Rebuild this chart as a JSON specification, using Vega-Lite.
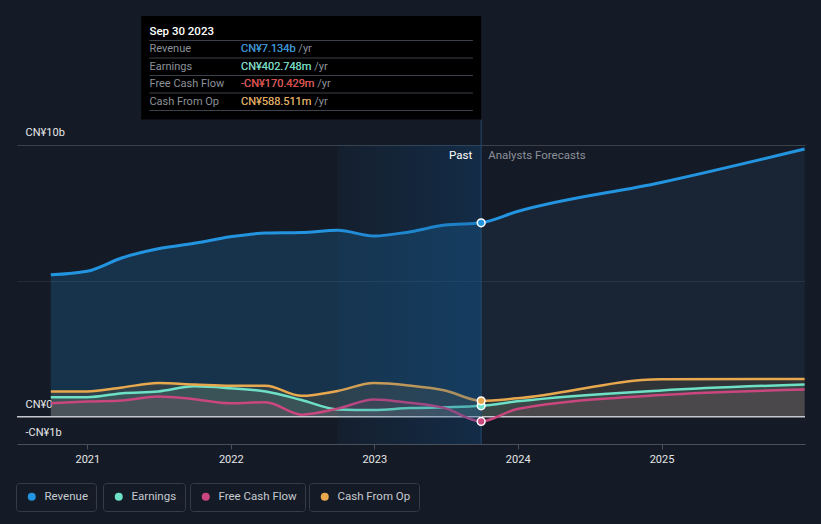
{
  "$schema": "https://vega.github.io/schema/vega-lite/v6.json",
  "width": 788,
  "height": 428,
  "autosize": {"type": "none"},
  "padding": {"left": 17, "top": 16, "right": 16, "bottom": 80},
  "background": "#151b26",
  "config": {
    "view": {"stroke": null},
    "font": "Roboto",
    "text": {"font": "Roboto"}
  },
  "datasets": {
    "fin": [
      {"date": "2020-09-30", "series": "Revenue", "value": 5.22},
      {"date": "2020-12-31", "series": "Revenue", "value": 5.35},
      {"date": "2021-03-31", "series": "Revenue", "value": 5.85},
      {"date": "2021-06-30", "series": "Revenue", "value": 6.18},
      {"date": "2021-09-30", "series": "Revenue", "value": 6.38},
      {"date": "2021-12-31", "series": "Revenue", "value": 6.62},
      {"date": "2022-03-31", "series": "Revenue", "value": 6.76},
      {"date": "2022-06-30", "series": "Revenue", "value": 6.78},
      {"date": "2022-09-30", "series": "Revenue", "value": 6.86},
      {"date": "2022-12-31", "series": "Revenue", "value": 6.65},
      {"date": "2023-03-31", "series": "Revenue", "value": 6.8},
      {"date": "2023-06-30", "series": "Revenue", "value": 7.05},
      {"date": "2023-09-30", "series": "Revenue", "value": 7.134},
      {"date": "2023-12-31", "series": "Revenue", "value": 7.55},
      {"date": "2024-12-31", "series": "Revenue", "value": 8.62},
      {"date": "2025-12-31", "series": "Revenue", "value": 9.85},
      {"date": "2020-09-30", "series": "Earnings", "value": 0.72},
      {"date": "2020-12-31", "series": "Earnings", "value": 0.72},
      {"date": "2021-03-31", "series": "Earnings", "value": 0.87},
      {"date": "2021-06-30", "series": "Earnings", "value": 0.93},
      {"date": "2021-09-30", "series": "Earnings", "value": 1.12},
      {"date": "2021-12-31", "series": "Earnings", "value": 1.05},
      {"date": "2022-03-31", "series": "Earnings", "value": 0.93},
      {"date": "2022-06-30", "series": "Earnings", "value": 0.62},
      {"date": "2022-09-30", "series": "Earnings", "value": 0.27},
      {"date": "2022-12-31", "series": "Earnings", "value": 0.25},
      {"date": "2023-03-31", "series": "Earnings", "value": 0.32},
      {"date": "2023-06-30", "series": "Earnings", "value": 0.35},
      {"date": "2023-09-30", "series": "Earnings", "value": 0.403},
      {"date": "2023-12-31", "series": "Earnings", "value": 0.57},
      {"date": "2024-12-31", "series": "Earnings", "value": 0.97},
      {"date": "2025-12-31", "series": "Earnings", "value": 1.19},
      {"date": "2020-09-30", "series": "Free Cash Flow", "value": 0.5},
      {"date": "2020-12-31", "series": "Free Cash Flow", "value": 0.56},
      {"date": "2021-03-31", "series": "Free Cash Flow", "value": 0.6},
      {"date": "2021-06-30", "series": "Free Cash Flow", "value": 0.75},
      {"date": "2021-09-30", "series": "Free Cash Flow", "value": 0.65},
      {"date": "2021-12-31", "series": "Free Cash Flow", "value": 0.5},
      {"date": "2022-03-31", "series": "Free Cash Flow", "value": 0.54},
      {"date": "2022-06-30", "series": "Free Cash Flow", "value": 0.08},
      {"date": "2022-09-30", "series": "Free Cash Flow", "value": 0.3},
      {"date": "2022-12-31", "series": "Free Cash Flow", "value": 0.64},
      {"date": "2023-03-31", "series": "Free Cash Flow", "value": 0.52},
      {"date": "2023-06-30", "series": "Free Cash Flow", "value": 0.32},
      {"date": "2023-09-30", "series": "Free Cash Flow", "value": -0.17},
      {"date": "2023-12-31", "series": "Free Cash Flow", "value": 0.29},
      {"date": "2024-12-31", "series": "Free Cash Flow", "value": 0.8},
      {"date": "2025-12-31", "series": "Free Cash Flow", "value": 1.0},
      {"date": "2020-09-30", "series": "Cash From Op", "value": 0.93},
      {"date": "2020-12-31", "series": "Cash From Op", "value": 0.93},
      {"date": "2021-03-31", "series": "Cash From Op", "value": 1.08},
      {"date": "2021-06-30", "series": "Cash From Op", "value": 1.24},
      {"date": "2021-09-30", "series": "Cash From Op", "value": 1.19},
      {"date": "2021-12-31", "series": "Cash From Op", "value": 1.14},
      {"date": "2022-03-31", "series": "Cash From Op", "value": 1.14},
      {"date": "2022-06-30", "series": "Cash From Op", "value": 0.77},
      {"date": "2022-09-30", "series": "Cash From Op", "value": 0.95},
      {"date": "2022-12-31", "series": "Cash From Op", "value": 1.24},
      {"date": "2023-03-31", "series": "Cash From Op", "value": 1.15},
      {"date": "2023-06-30", "series": "Cash From Op", "value": 0.97},
      {"date": "2023-09-30", "series": "Cash From Op", "value": 0.589},
      {"date": "2023-12-31", "series": "Cash From Op", "value": 0.68},
      {"date": "2024-12-31", "series": "Cash From Op", "value": 1.38},
      {"date": "2025-12-31", "series": "Cash From Op", "value": 1.39}
    ],
    "tip": [
      {"row": "date", "label": "Sep 30 2023", "value": ""},
      {"row": "Revenue", "label": "Revenue", "value": "CN¥7.134b"},
      {"row": "Earnings", "label": "Earnings", "value": "CN¥402.748m"},
      {"row": "Free Cash Flow", "label": "Free Cash Flow", "value": "-CN¥170.429m"},
      {"row": "Cash From Op", "label": "Cash From Op", "value": "CN¥588.511m"}
    ]
  },
  "layer": [
    {
      "data": {"name": "fin"},
      "resolve": {"scale": {"color": "independent"}, "legend": {"color": "independent"}},
      "layer": [
        {
          "transform": [{"filter": {"and": [{"field": "series", "equal": "Revenue"}, {"field": "date", "lte": {"year": 2023, "month": 9, "date": 30, "hours": 12, "utc": true}}]}}],
          "mark": {"type": "area", "interpolate": "monotone", "color": "#2394df", "opacity": 0.2},
          "encoding": {
            "x": {"field": "date", "type": "temporal",
              "scale": {"type": "utc", "domain": [{"year": 2020, "month": 7, "date": 6, "utc": true}, {"year": 2026, "month": 1, "date": 1, "utc": true}]},
              "axis": {"title": null, "format": "%Y", "grid": false,
                "values": [{"year": 2021, "month": 1, "date": 1, "utc": true}, {"year": 2022, "month": 1, "date": 1, "utc": true}, {"year": 2023, "month": 1, "date": 1, "utc": true}, {"year": 2024, "month": 1, "date": 1, "utc": true}, {"year": 2025, "month": 1, "date": 1, "utc": true}],
                "domainColor": "#4a505a", "tickColor": "#4a505a", "tickSize": 5, "labelColor": "#e6e6e6", "labelFontSize": 11, "labelPadding": 4, "labelFont": "Roboto"}},
            "y": {"field": "value", "type": "quantitative",
              "scale": {"domain": [-1, 14.74], "nice": false, "zero": false},
              "axis": {"title": null, "values": [-1, 0, 5, 10], "domain": false, "ticks": false,
                "labelAlign": "left", "labelBaseline": "alphabetic", "labelPadding": -8, "labelOffset": -9,
                "labelColor": "#e6e6e6", "labelFontSize": 11, "labelFont": "Roboto",
                "labelExpr": "datum.value == 10 ? 'CN¥10b' : datum.value == 0 ? 'CN¥0' : datum.value == -1 ? '-CN¥1b' : ''",
                "gridColor": {"condition": {"test": "datum.value == 10", "value": "#3a404a"}, "value": "#262c37"},
                "gridOpacity": {"condition": {"test": "datum.value <= 0", "value": 0}, "value": 1}}}
          }
        },
        {
          "transform": [{"filter": {"and": [{"field": "series", "equal": "Revenue"}, {"field": "date", "gte": {"year": 2023, "month": 9, "date": 29, "hours": 12, "utc": true}}]}}],
          "mark": {"type": "area", "interpolate": "monotone", "color": "#365e8a", "opacity": 0.15},
          "encoding": {
            "x": {"field": "date", "type": "temporal"},
            "y": {"field": "value", "type": "quantitative"}
          }
        },
        {
          "transform": [{"filter": {"not": {"field": "series", "equal": "Revenue"}}}],
          "mark": {"type": "area", "interpolate": "monotone", "opacity": 0.12},
          "encoding": {
            "x": {"field": "date", "type": "temporal"},
            "y": {"field": "value", "type": "quantitative", "stack": null},
            "color": {"field": "series", "type": "nominal", "legend": null,
              "scale": {"domain": ["Earnings", "Free Cash Flow", "Cash From Op"], "range": ["#6ee0c6", "#c9467e", "#e8a94e"]}}
          }
        },
        {
          "data": {"values": [{"level": 0}]},
          "mark": {"type": "rule", "color": "#c4c8ce", "strokeWidth": 1.5},
          "encoding": {"y": {"field": "level", "type": "quantitative"}}
        },
        {
          "transform": [{"filter": {"not": {"field": "series", "equal": "Revenue"}}}],
          "mark": {"type": "line", "interpolate": "monotone", "strokeWidth": 2.5},
          "encoding": {
            "x": {"field": "date", "type": "temporal"},
            "y": {"field": "value", "type": "quantitative"},
            "color": {"field": "series", "type": "nominal", "legend": null,
              "scale": {"domain": ["Cash From Op", "Earnings", "Free Cash Flow"], "range": ["#e8a94e", "#6ee0c6", "#c9467e"]}}
          }
        },
        {
          "transform": [{"filter": {"field": "series", "equal": "Revenue"}}],
          "mark": {"type": "line", "interpolate": "monotone", "strokeWidth": 3, "color": "#2394df"},
          "encoding": {
            "x": {"field": "date", "type": "temporal"},
            "y": {"field": "value", "type": "quantitative"}
          }
        },
        {
          "data": {"values": [{"period": "Past"}]},
          "mark": {"type": "rect", "fill": {"gradient": "linear", "x1": 0, "x2": 1, "y1": 0, "y2": 0,
            "stops": [{"offset": 0, "color": "rgba(15,79,138,0.08)"}, {"offset": 1, "color": "rgba(15,79,138,0.32)"}]}},
          "encoding": {
            "x": {"datum": {"year": 2022, "month": 9, "date": 30, "utc": true}},
            "x2": {"datum": {"year": 2023, "month": 9, "date": 30, "utc": true}},
            "y": {"datum": 10},
            "y2": {"datum": -1}
          }
        },
        {
          "data": {"values": [{"period": "Past"}]},
          "mark": {"type": "rule", "color": "#24496e", "strokeWidth": 1},
          "encoding": {
            "x": {"datum": {"year": 2023, "month": 9, "date": 30, "utc": true}},
            "y": {"datum": 10.93},
            "y2": {"datum": -1}
          }
        },
        {
          "data": {"values": [{"label": "Past"}]},
          "mark": {"type": "text", "align": "right", "baseline": "middle", "dx": -9, "color": "#ffffff", "fontSize": 11.5},
          "encoding": {
            "x": {"datum": {"year": 2023, "month": 9, "date": 30, "utc": true}},
            "y": {"datum": 9.59},
            "text": {"field": "label"}
          }
        },
        {
          "data": {"values": [{"label": "Analysts Forecasts"}]},
          "mark": {"type": "text", "align": "left", "baseline": "middle", "dx": 7, "color": "#8b9099", "fontSize": 11.5},
          "encoding": {
            "x": {"datum": {"year": 2023, "month": 9, "date": 30, "utc": true}},
            "y": {"datum": 9.59},
            "text": {"field": "label"}
          }
        },
        {
          "data": {"values": [{"box": "tooltip"}]},
          "mark": {"type": "rect", "fill": "#000000"},
          "encoding": {
            "x": {"datum": {"year": 2021, "month": 5, "date": 18, "utc": true}},
            "x2": {"datum": {"year": 2023, "month": 9, "date": 30, "utc": true}},
            "y": {"datum": 14.74},
            "y2": {"datum": 10.93}
          }
        },
        {
          "transform": [{"filter": {"and": [{"field": "series", "equal": "Revenue"}, {"field": "date", "range": [{"year": 2023, "month": 9, "date": 29, "hours": 12, "utc": true}, {"year": 2023, "month": 9, "date": 30, "hours": 12, "utc": true}]}]}}],
          "mark": {"type": "point", "filled": true, "size": 60, "stroke": "#ffffff", "strokeWidth": 1.5, "opacity": 1},
          "encoding": {
            "x": {"field": "date", "type": "temporal"},
            "y": {"field": "value", "type": "quantitative"},
            "color": {"field": "series", "type": "nominal", "scale": {"range": ["#2394df"]},
              "legend": {"orient": "none", "legendX": -1, "legendY": 467, "title": null, "padding": 8, "strokeColor": "#363c47", "cornerRadius": 3,
                "symbolType": "circle", "symbolSize": 64, "symbolStrokeWidth": 0, "symbolOffset": 2, "labelOffset": 7,
                "labelFontSize": 11.5, "labelColor": "#c6cad0", "labelFont": "Roboto"}}
          }
        },
        {
          "transform": [{"filter": {"and": [{"field": "series", "equal": "Earnings"}, {"field": "date", "range": [{"year": 2023, "month": 9, "date": 29, "hours": 12, "utc": true}, {"year": 2023, "month": 9, "date": 30, "hours": 12, "utc": true}]}]}}],
          "mark": {"type": "point", "filled": true, "size": 60, "stroke": "#ffffff", "strokeWidth": 1.5, "opacity": 1},
          "encoding": {
            "x": {"field": "date", "type": "temporal"},
            "y": {"field": "value", "type": "quantitative"},
            "color": {"field": "series", "type": "nominal", "scale": {"range": ["#6ee0c6"]},
              "legend": {"orient": "none", "legendX": 86, "legendY": 467, "title": null, "padding": 8, "strokeColor": "#363c47", "cornerRadius": 3,
                "symbolType": "circle", "symbolSize": 64, "symbolStrokeWidth": 0, "symbolOffset": 2, "labelOffset": 7,
                "labelFontSize": 11.5, "labelColor": "#c6cad0", "labelFont": "Roboto"}}
          }
        },
        {
          "transform": [{"filter": {"and": [{"field": "series", "equal": "Free Cash Flow"}, {"field": "date", "range": [{"year": 2023, "month": 9, "date": 29, "hours": 12, "utc": true}, {"year": 2023, "month": 9, "date": 30, "hours": 12, "utc": true}]}]}}],
          "mark": {"type": "point", "filled": true, "size": 60, "stroke": "#ffffff", "strokeWidth": 1.5, "opacity": 1},
          "encoding": {
            "x": {"field": "date", "type": "temporal"},
            "y": {"field": "value", "type": "quantitative"},
            "color": {"field": "series", "type": "nominal", "scale": {"range": ["#c9467e"]},
              "legend": {"orient": "none", "legendX": 173, "legendY": 467, "title": null, "padding": 8, "strokeColor": "#363c47", "cornerRadius": 3,
                "symbolType": "circle", "symbolSize": 64, "symbolStrokeWidth": 0, "symbolOffset": 2, "labelOffset": 7,
                "labelFontSize": 11.5, "labelColor": "#c6cad0", "labelFont": "Roboto"}}
          }
        },
        {
          "transform": [{"filter": {"and": [{"field": "series", "equal": "Cash From Op"}, {"field": "date", "range": [{"year": 2023, "month": 9, "date": 29, "hours": 12, "utc": true}, {"year": 2023, "month": 9, "date": 30, "hours": 12, "utc": true}]}]}}],
          "mark": {"type": "point", "filled": true, "size": 60, "stroke": "#ffffff", "strokeWidth": 1.5, "opacity": 1},
          "encoding": {
            "x": {"field": "date", "type": "temporal"},
            "y": {"field": "value", "type": "quantitative"},
            "color": {"field": "series", "type": "nominal", "scale": {"range": ["#e8a94e"]},
              "legend": {"orient": "none", "legendX": 292, "legendY": 467, "title": null, "padding": 8, "strokeColor": "#363c47", "cornerRadius": 3,
                "symbolType": "circle", "symbolSize": 64, "symbolStrokeWidth": 0, "symbolOffset": 2, "labelOffset": 7,
                "labelFontSize": 11.5, "labelColor": "#c6cad0", "labelFont": "Roboto"}}
          }
        }
      ]
    },
    {
      "data": {"name": "tip"},
      "layer": [
        {
          "mark": {"type": "rule", "color": "#3d4149", "strokeWidth": 1},
          "encoding": {
            "x": {"datum": {"year": 2021, "month": 6, "date": 8, "utc": true}},
            "x2": {"datum": {"year": 2023, "month": 9, "date": 9, "utc": true}},
            "y": {"field": "row", "type": "nominal", "bandPosition": 1, "axis": null,
              "scale": {"type": "band", "domain": ["date", "Revenue", "Earnings", "Free Cash Flow", "Cash From Op"], "range": [7, 94.5], "paddingInner": 0, "paddingOuter": 0}}
          }
        },
        {
          "transform": [{"filter": "datum.row == 'date'"}],
          "mark": {"type": "text", "align": "left", "baseline": "middle", "color": "#ffffff", "fontSize": 11.5, "fontWeight": 500},
          "encoding": {
            "x": {"datum": {"year": 2021, "month": 6, "date": 8, "utc": true}},
            "y": {"field": "row", "type": "nominal"},
            "text": {"field": "label"}
          }
        },
        {
          "transform": [{"filter": "datum.row != 'date'"}],
          "mark": {"type": "text", "align": "left", "baseline": "middle", "color": "#8c9199", "fontSize": 11},
          "encoding": {
            "x": {"datum": {"year": 2021, "month": 6, "date": 8, "utc": true}},
            "y": {"field": "row", "type": "nominal"},
            "text": {"field": "label"}
          }
        },
        {
          "transform": [{"filter": "datum.row != 'date'"}, {"calculate": "datum.value + ' /yr'", "as": "valueyr"}],
          "mark": {"type": "text", "align": "left", "baseline": "middle", "color": "#8c9199", "fontSize": 11},
          "encoding": {
            "x": {"datum": {"year": 2022, "month": 1, "date": 27, "utc": true}},
            "y": {"field": "row", "type": "nominal"},
            "text": {"field": "valueyr"}
          }
        },
        {
          "transform": [{"filter": "datum.row != 'date'"}],
          "mark": {"type": "text", "align": "left", "baseline": "middle", "fontSize": 11},
          "encoding": {
            "x": {"datum": {"year": 2022, "month": 1, "date": 27, "utc": true}},
            "y": {"field": "row", "type": "nominal"},
            "text": {"field": "value"},
            "color": {"field": "row", "type": "nominal", "legend": null,
              "scale": {"domain": ["Revenue", "Earnings", "Free Cash Flow", "Cash From Op"], "range": ["#2394df", "#6ee0c6", "#e8413c", "#e8a94e"]}}
          }
        }
      ]
    }
  ],
  "resolve": {"scale": {"y": "independent", "color": "independent"}, "legend": {"color": "independent"}}
}
